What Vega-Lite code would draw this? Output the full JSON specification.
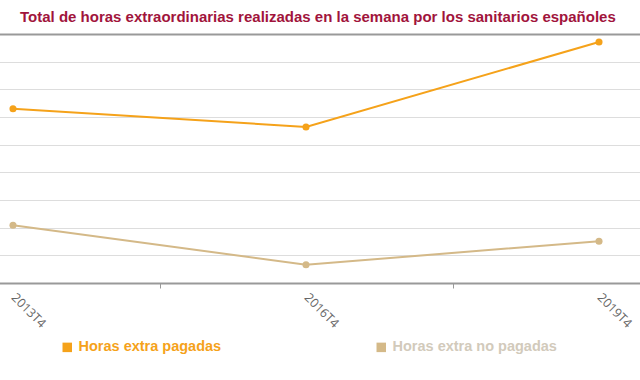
{
  "$schema": "https://vega.github.io/schema/vega-lite/v6.json",
  "autosize": "none",
  "width": 640,
  "height": 249,
  "padding": {"left": 0, "top": 34, "right": 0, "bottom": 97},
  "background": "white",
  "title": {
    "text": "Total de horas extraordinarias realizadas en la semana por los sanitarios españoles",
    "anchor": "start",
    "frame": "group",
    "dx": 20,
    "offset": 9,
    "font": "Liberation Sans",
    "fontSize": 15,
    "fontWeight": "bold",
    "color": "#a1143c"
  },
  "config": {
    "view": {"stroke": null},
    "font": "Liberation Sans"
  },
  "data": {
    "values": [
      {"periodo": "2013T4", "serie": "Horas extra pagadas", "valor": 6.3},
      {"periodo": "2016T4", "serie": "Horas extra pagadas", "valor": 5.64},
      {"periodo": "2019T4", "serie": "Horas extra pagadas", "valor": 8.71},
      {"periodo": "2013T4", "serie": "Horas extra no pagadas", "valor": 2.09},
      {"periodo": "2016T4", "serie": "Horas extra no pagadas", "valor": 0.66},
      {"periodo": "2019T4", "serie": "Horas extra no pagadas", "valor": 1.51}
    ]
  },
  "encoding": {
    "y": {
      "field": "valor",
      "type": "quantitative",
      "scale": {"domain": [0, 9], "nice": false},
      "axis": {
        "title": null,
        "labels": false,
        "ticks": false,
        "domain": false,
        "grid": true,
        "gridColor": "#dddddd",
        "gridWidth": 1,
        "values": [1, 2, 3, 4, 5, 6, 7, 8]
      }
    },
    "color": {
      "field": "serie",
      "type": "nominal",
      "scale": {"domain": ["Horas extra pagadas", "Horas extra no pagadas"], "range": ["#f5a21a", "#d4b988"]},
      "legend": {
        "title": null,
        "orient": "none",
        "legendX": 60,
        "legendY": 306,
        "direction": "horizontal",
        "columns": 2,
        "columnPadding": 152,
        "symbolType": "square",
        "symbolSize": 90,
        "symbolStrokeWidth": 0,
        "labelFontSize": 14.5,
        "labelFontWeight": "bold",
        "labelFont": "Liberation Sans",
        "labelOffset": 4,
        "labelLimit": 300,
        "encode": {
          "labels": {
            "update": {
              "fill": {"signal": "datum.value === 'Horas extra pagadas' ? '#f5a21a' : '#d2cabb'"}
            }
          }
        }
      }
    }
  },
  "layer": [
    {
      "mark": {"type": "line", "strokeWidth": 2},
      "encoding": {
        "x": {
          "field": "periodo",
          "type": "ordinal",
          "scale": {"type": "band", "range": [-133.5, 745.5], "paddingInner": 0, "paddingOuter": 0},
          "axis": {
            "title": null,
            "labelAngle": 45,
            "labelAlign": "left",
            "labelBaseline": "middle",
            "labelPadding": 7,
            "labelColor": "#666666",
            "labelFontSize": 12.5,
            "labelFont": "Open Sans",
            "tickBand": "extent",
            "ticks": true,
            "tickColor": "#999999",
            "tickSize": 5,
            "domainColor": "#999999",
            "domainWidth": 2,
            "grid": false
          }
        }
      }
    },
    {
      "mark": {"type": "point", "filled": true, "size": 50, "opacity": 1},
      "encoding": {
        "x": {
          "field": "periodo",
          "type": "ordinal",
          "axis": {
            "orient": "top",
            "title": null,
            "labels": false,
            "ticks": false,
            "domainColor": "#999999",
            "domainWidth": 2,
            "grid": false
          }
        }
      }
    }
  ],
  "resolve": {"axis": {"x": "independent"}}
}
